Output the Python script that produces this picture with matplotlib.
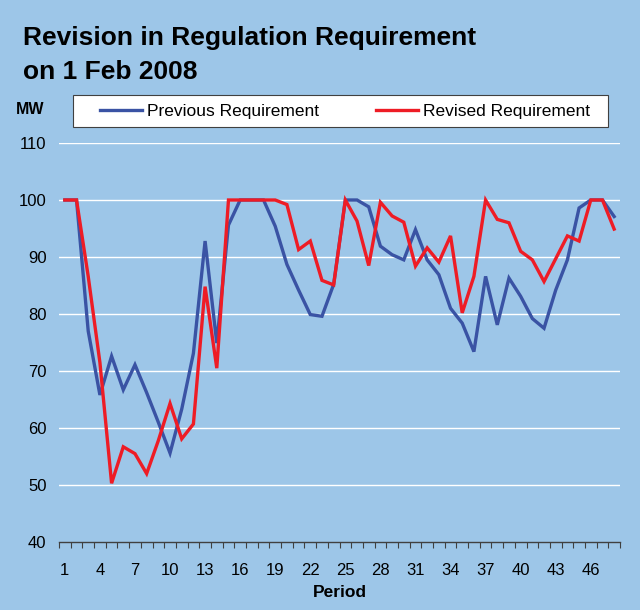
import matplotlib
matplotlib.use("Agg")
import matplotlib.pyplot as plt
from matplotlib.ticker import FixedLocator
from matplotlib.patches import Rectangle

periods = list(range(1, 49))
previous = [100, 100, 77.0, 65.8, 72.6, 66.7, 71.1, 66.2, 61.0, 55.6, 63.3, 73.1,
            92.8, 74.9, 95.6, 100, 100, 100, 95.4, 88.7, 84.2, 79.9, 79.6, 85.2,
            100, 100, 98.8, 91.9, 90.4, 89.5, 94.8, 89.5, 86.9, 81.0, 78.4, 73.4,
            86.6, 78.1, 86.3, 83.1, 79.2, 77.5, 84.2, 89.5, 98.6, 100, 100, 97.1]
revised = [100, 100, 86.6, 71.5, 50.3, 56.7, 55.5, 52.0, 57.8, 64.3, 58.1, 60.7,
           84.8, 70.5, 100, 100, 100, 100, 100, 99.2, 91.3, 92.8, 85.9, 85.1,
           100, 96.3, 88.5, 99.6, 97.2, 96.1, 88.4, 91.6, 89.1, 93.7, 80.2, 86.6,
           100, 96.6, 96.0, 91.0, 89.5, 85.7, 89.7, 93.7, 92.8, 100, 100, 94.9]
ytick_vals = [40, 50, 60, 70, 80, 90, 100, 110]
xtick_vals = list(range(1, 47, 3))

BG = "#9DC6E8"
BLUE = "#3A53A4"
RED = "#EE1C25"

plt.rcParams['font.family'] = ['Liberation Sans', 'DejaVu Sans']

fig = plt.figure(figsize=(6.4, 6.1), dpi=100, facecolor=BG)
ax = fig.add_axes([59/640, 1-542/610, (620-59)/640, (542-143)/610])
ax.set_facecolor(BG)

l1, = ax.plot(periods, previous, color=BLUE, lw=2.4, label="Previous Requirement", solid_joinstyle='miter')
l2, = ax.plot(periods, revised, color=RED, lw=2.4, label="Revised Requirement", solid_joinstyle='miter')

ax.set_xlim(0.5, 48.5)
ax.set_ylim(40, 110)
ax.set_yticks(ytick_vals)
ax.set_yticklabels([str(v) for v in ytick_vals], fontsize=12)
ax.set_xticks(xtick_vals)
ax.set_xticklabels([str(v) for v in xtick_vals], fontsize=12)
ax.xaxis.set_minor_locator(FixedLocator([i + 0.5 for i in range(0, 49)]))
ax.tick_params(axis='x', which='major', length=0, pad=15)
ax.tick_params(axis='x', which='minor', length=4, width=0.8, color="#404040", direction='out')
ax.tick_params(axis='y', length=0, pad=9)

for y in ytick_vals[1:]:
    ax.axhline(y, color='white', lw=1.0, zorder=0.5)

for s in ['top', 'right', 'left']:
    ax.spines[s].set_visible(False)
ax.spines['bottom'].set_color("#404040")
ax.spines['bottom'].set_linewidth(1.0)

ax.set_xlabel("Period", fontsize=12.5, fontweight='bold', labelpad=5)

fig.text(23/640, 1-38/610, "Revision in Regulation Requirement", fontsize=19,
         fontweight='bold', va='center', ha='left')
fig.text(23/640, 1-72/610, "on 1 Feb 2008", fontsize=19,
         fontweight='bold', va='center', ha='left')
fig.text(30/640, 1-110/610, "MW", fontsize=11.5, fontweight='bold', va='center', ha='center')

# legend box
fig.patches.append(Rectangle((73/640, 1-127/610), (608-73)/640, 32/610,
                             transform=fig.transFigure, facecolor='white',
                             edgecolor="#404040", lw=0.8, zorder=1))
leg = fig.legend(handles=[l1, l2], loc='center left',
                 bbox_to_anchor=(100/640, 1-127/610, (590-100)/640, 32/610),
                 mode='expand', ncol=2, fontsize=12.5, frameon=False,
                 borderaxespad=0, handlelength=2.4, handletextpad=0.3, borderpad=0)
leg.set_zorder(2)

fig.savefig("out.png", dpi=100, facecolor=BG)
